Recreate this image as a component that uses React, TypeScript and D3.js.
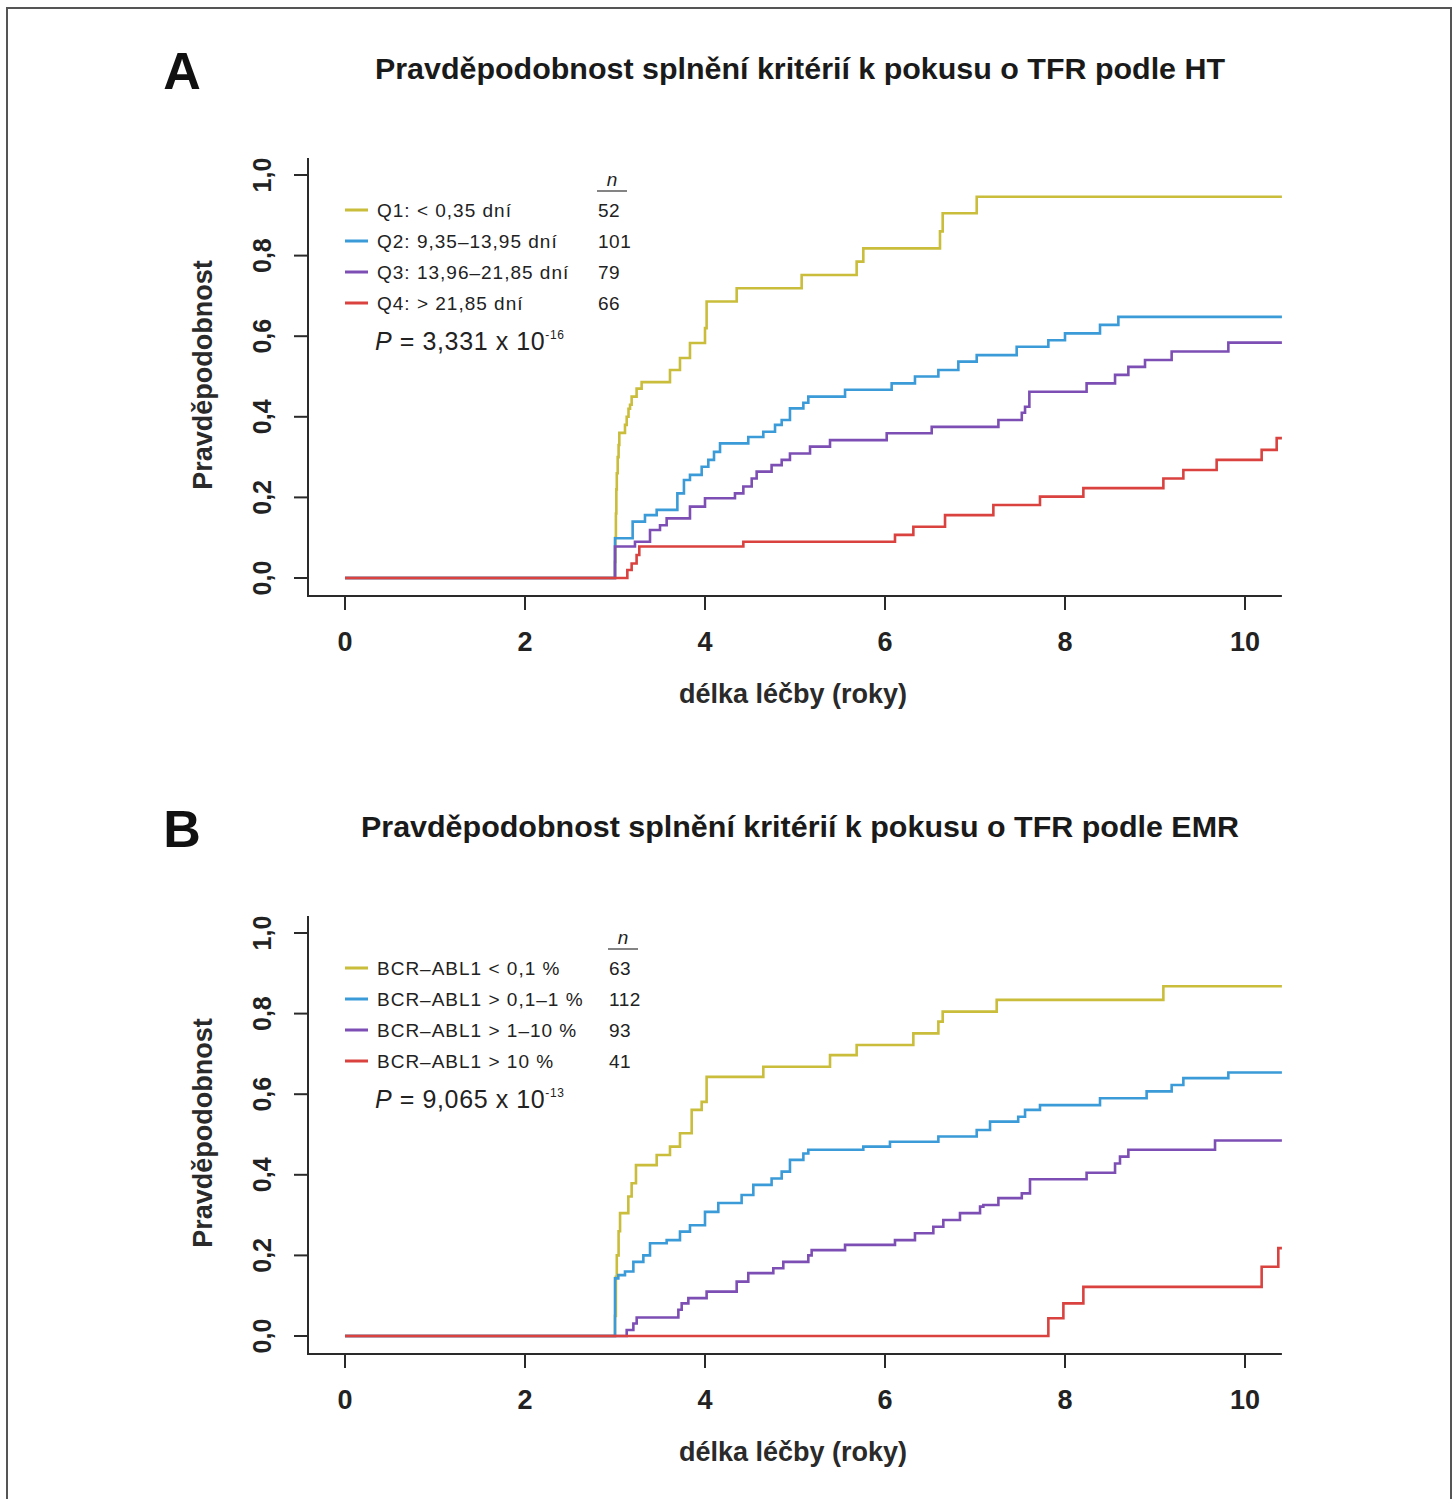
import React from "react";
import * as d3 from "d3";

// x = years of treatment, y = cumulative probability
const xTicks = [0, 2, 4, 6, 8, 10];
const yTicks = [0, 0.2, 0.4, 0.6, 0.8, 1.0];
const colors = ["#c9bd3b", "#3a9bd8", "#7d4fb4", "#d9423f"];

// panel A - by HT quartiles: [year, probability] at each step
const htQ1: [number, number][] = [
  [3.0, 0.04], [3.005, 0.1], [3.01, 0.16], [3.015, 0.22], [3.02, 0.26], [3.03, 0.3],
  [3.04, 0.33], [3.048, 0.36], [3.111, 0.38], [3.13, 0.4], [3.15, 0.42], [3.167, 0.43],
  [3.185, 0.45], [3.24, 0.47], [3.296, 0.486], [3.611, 0.516], [3.722, 0.546],
  [3.833, 0.583], [4.0, 0.62], [4.018, 0.686], [4.352, 0.719], [5.074, 0.752],
  [5.685, 0.785], [5.759, 0.818], [6.611, 0.86], [6.641, 0.905], [7.019, 0.946],
];
const htQ2: [number, number][] = [
  [3.0, 0.0985], [3.196, 0.14], [3.333, 0.156], [3.463, 0.169], [3.693, 0.21],
  [3.766, 0.243], [3.833, 0.256], [3.963, 0.276], [4.037, 0.293], [4.1, 0.313],
  [4.167, 0.334], [4.481, 0.35], [4.648, 0.363], [4.778, 0.38], [4.852, 0.392],
  [4.944, 0.421], [5.093, 0.435], [5.148, 0.45], [5.556, 0.467], [6.074, 0.483],
  [6.333, 0.5], [6.593, 0.516], [6.815, 0.537], [7.019, 0.553], [7.463, 0.574],
  [7.815, 0.59], [8.0, 0.607], [8.389, 0.628], [8.593, 0.648],
];
const htQ3: [number, number][] = [
  [3.0, 0.078], [3.222, 0.09], [3.389, 0.119], [3.5, 0.131], [3.574, 0.148],
  [3.833, 0.177], [4.0, 0.198], [4.333, 0.21], [4.426, 0.227], [4.519, 0.247],
  [4.574, 0.264], [4.74, 0.28], [4.852, 0.293], [4.944, 0.309], [5.167, 0.326],
  [5.389, 0.342], [6.019, 0.359], [6.519, 0.375], [7.26, 0.392], [7.52, 0.41],
  [7.556, 0.425], [7.604, 0.462], [8.24, 0.483], [8.556, 0.504], [8.704, 0.524],
  [8.889, 0.541], [9.185, 0.562], [9.815, 0.584],
];
const htQ4: [number, number][] = [
  [3.137, 0.02], [3.185, 0.036], [3.24, 0.057], [3.27, 0.078], [4.426, 0.09],
  [6.111, 0.107], [6.315, 0.127], [6.667, 0.156], [7.204, 0.181], [7.722, 0.202],
  [8.204, 0.223], [9.093, 0.247], [9.315, 0.268], [9.685, 0.293], [10.185, 0.318],
  [10.352, 0.347],
];
const htLabels = ["Q1: < 0,35 dní", "Q2: 9,35–13,95 dní", "Q3: 13,96–21,85 dní", "Q4: > 21,85 dní"];
const htN = [52, 101, 79, 66];

// panel B - by early molecular response
const emrLow: [number, number][] = [
  [3.0, 0.05], [3.01, 0.147], [3.02, 0.2], [3.04, 0.26], [3.056, 0.305], [3.148, 0.346],
  [3.185, 0.379], [3.233, 0.424], [3.463, 0.449], [3.611, 0.47], [3.722, 0.503],
  [3.852, 0.561], [3.963, 0.581], [4.018, 0.643], [4.648, 0.668], [5.389, 0.697],
  [5.685, 0.722], [6.315, 0.751], [6.593, 0.78], [6.641, 0.805], [7.241, 0.834],
  [9.093, 0.868],
];
const emrMid1: [number, number][] = [
  [3.0, 0.143], [3.037, 0.151], [3.111, 0.16], [3.204, 0.184], [3.315, 0.2],
  [3.389, 0.23], [3.574, 0.238], [3.722, 0.259], [3.833, 0.275], [4.0, 0.308],
  [4.148, 0.33], [4.407, 0.35], [4.537, 0.375], [4.74, 0.391], [4.852, 0.408],
  [4.944, 0.437], [5.093, 0.453], [5.148, 0.462], [5.759, 0.47], [6.055, 0.482],
  [6.593, 0.495], [7.019, 0.511], [7.167, 0.532], [7.48, 0.544], [7.556, 0.561],
  [7.722, 0.573], [8.389, 0.59], [8.907, 0.607], [9.185, 0.623], [9.315, 0.64],
  [9.815, 0.654],
];
const emrMid2: [number, number][] = [
  [3.13, 0.015], [3.204, 0.031], [3.241, 0.046], [3.704, 0.065], [3.741, 0.081],
  [3.815, 0.094], [4.018, 0.11], [4.352, 0.135], [4.481, 0.156], [4.759, 0.168],
  [4.87, 0.184], [5.148, 0.2], [5.185, 0.213], [5.556, 0.226], [6.111, 0.238],
  [6.333, 0.255], [6.537, 0.271], [6.648, 0.288], [6.833, 0.305], [7.056, 0.321],
  [7.093, 0.325], [7.26, 0.342], [7.52, 0.354], [7.611, 0.389], [8.24, 0.405],
  [8.556, 0.428], [8.611, 0.445], [8.704, 0.462], [9.667, 0.485],
];
const emrHigh: [number, number][] = [
  [7.815, 0.044], [7.982, 0.081], [8.204, 0.122], [10.185, 0.172], [10.37, 0.218],
];
const emrLabels = ["BCR–ABL1 < 0,1 %", "BCR–ABL1 > 0,1–1 %", "BCR–ABL1 > 1–10 %", "BCR–ABL1 > 10 %"];
const emrN = [63, 112, 93, 41];

const xMax = 10.41;
const font = "'Liberation Sans', Arial, Helvetica, sans-serif";
const czech = d3.formatLocale({ decimal: ",", thousands: " ", grouping: [3], currency: ["", " Kč"] });
const fmt = czech.format(".1f");

const x = d3.scaleLinear().domain([0, 10]).range([345, 1245]);
const y = d3.scaleLinear().domain([0, 1]).range([578, 175]);

const stepLine = d3
  .line<[number, number]>()
  .x((d) => x(d[0]))
  .y((d) => y(d[1]))
  .curve(d3.curveStepAfter);

function Panel({ dy, letter, title, titleW, labels, ns, nX, pMant, pExp, series }) {
  const axisColor = "#2a2a2a";
  const ink = "#222";
  const rows = [210, 241, 272, 303];
  return (
    <g transform={`translate(0,${dy})`} fontFamily={font}>
      <text x={182} y={89} fontSize={52} fontWeight="bold" textAnchor="middle" fill="#111">
        {letter}
      </text>
      <text
        x={800}
        y={79}
        fontSize={30}
        fontWeight="bold"
        textAnchor="middle"
        fill="#1a1a1a"
        textLength={titleW}
        lengthAdjust="spacingAndGlyphs"
      >
        {title}
      </text>

      {/* axes */}
      <line x1={308} x2={308} y1={158} y2={597} stroke={axisColor} strokeWidth={2} />
      <line x1={307} x2={x(xMax)} y1={596} y2={596} stroke={axisColor} strokeWidth={2} />
      {yTicks.map((t) => (
        <g key={t}>
          <line x1={294} x2={308} y1={y(t)} y2={y(t)} stroke={axisColor} strokeWidth={2} />
          <text
            transform={`translate(271,${y(t)}) rotate(-90)`}
            textAnchor="middle"
            fontSize={25}
            fontWeight="bold"
            fill={ink}
          >
            {fmt(t)}
          </text>
        </g>
      ))}
      {xTicks.map((t) => (
        <g key={t}>
          <line x1={x(t)} x2={x(t)} y1={596} y2={610} stroke={axisColor} strokeWidth={2} />
          <text x={x(t)} y={651} textAnchor="middle" fontSize={27} fontWeight="bold" fill={ink}>
            {t}
          </text>
        </g>
      ))}
      <text
        transform="translate(212,375) rotate(-90)"
        textAnchor="middle"
        fontSize={27}
        fontWeight="bold"
        fill="#2a2a2a"
      >
        Pravděpodobnost
      </text>
      <text x={793} y={703} textAnchor="middle" fontSize={27} fontWeight="bold" fill="#2a2a2a">
        délka léčby (roky)
      </text>

      {/* curves, red last so it sits on top at zero */}
      {series.map((s, i) => (
        <path
          key={i}
          d={stepLine([[0, 0], ...s, [xMax, s[s.length - 1][1]]])}
          fill="none"
          stroke={colors[i]}
          strokeWidth={2.6}
        />
      ))}

      {/* legend */}
      <text x={nX + 14} y={186} fontSize={19} fontStyle="italic" textAnchor="middle" fill={ink}>
        n
      </text>
      <line x1={nX - 1} x2={nX + 29} y1={191} y2={191} stroke="#333" strokeWidth={1.2} />
      {labels.map((l, i) => (
        <g key={l}>
          <line x1={345} x2={368} y1={rows[i]} y2={rows[i]} stroke={colors[i]} strokeWidth={3} />
          <text x={377} y={rows[i] + 7} fontSize={19} letterSpacing={1} fill={ink}>
            {l}
          </text>
          <text x={nX} y={rows[i] + 7} fontSize={19} letterSpacing={0.5} fill={ink}>
            {ns[i]}
          </text>
        </g>
      ))}
      <text x={375} y={350} fontSize={25} letterSpacing={0.6} fill={ink}>
        <tspan fontStyle="italic">P</tspan>
        {` = ${pMant} x 10`}
        <tspan fontSize={12} dy={-11}>
          {pExp}
        </tspan>
      </text>
    </g>
  );
}

export default function App() {
  return (
    <svg
      width={1456}
      height={1499}
      style={{ position: "absolute", left: 0, top: 0, display: "block", background: "#fff" }}
    >
      <rect width={1456} height={1499} fill="#fff" />
      <path d="M7,1499 V8 H1451 V1499" fill="none" stroke="#555" strokeWidth={2} />
      <Panel
        dy={0}
        letter="A"
        title="Pravděpodobnost splnění kritérií k pokusu o TFR podle HT"
        titleW={850}
        labels={htLabels}
        ns={htN}
        nX={598}
        pMant="3,331"
        pExp="-16"
        series={[htQ1, htQ2, htQ3, htQ4]}
      />
      <Panel
        dy={758}
        letter="B"
        title="Pravděpodobnost splnění kritérií k pokusu o TFR podle EMR"
        titleW={878}
        labels={emrLabels}
        ns={emrN}
        nX={609}
        pMant="9,065"
        pExp="-13"
        series={[emrLow, emrMid1, emrMid2, emrHigh]}
      />
    </svg>
  );
}
